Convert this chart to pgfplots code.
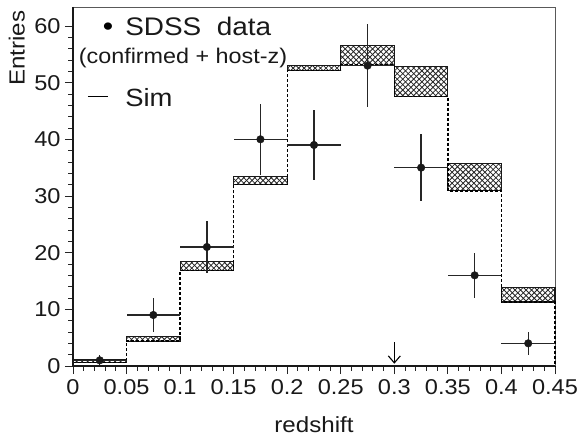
\documentclass[border=0pt]{standalone}
\usepackage{pgfplots}
\pgfplotsset{compat=1.18}
\usepackage{fontspec}
\setmainfont{Liberation Sans}[FakeStretch=1.1]
\usetikzlibrary{patterns,arrows.meta}
\pgfdeclarepatternformonly{xhatch}{\pgfqpoint{-1pt}{-1pt}}{\pgfqpoint{6.5pt}{6.5pt}}{\pgfqpoint{5.5pt}{5.5pt}}{%
  \pgfsetlinewidth{0.8pt}%
  \pgfpathmoveto{\pgfqpoint{-0.1pt}{-0.1pt}}\pgfpathlineto{\pgfqpoint{5.6pt}{5.6pt}}%
  \pgfpathmoveto{\pgfqpoint{-0.1pt}{5.6pt}}\pgfpathlineto{\pgfqpoint{5.6pt}{-0.1pt}}%
  \pgfusepath{stroke}}
\newcommand{\band}[4]{\addplot[draw=black!90, line width=1.1bp, pattern=xhatch, pattern color=black!85, forget plot] coordinates {(#1,#3) (#2,#3) (#2,#4) (#1,#4)} --cycle;}
\begin{document}
\begin{tikzpicture}
\useasboundingbox (-73bp,-72bp) rectangle (508bp,366bp);
\begin{axis}[
  at={(0,0)}, anchor=south west,
  scale only axis, width=482bp, height=359bp,
  xmin=0, xmax=0.45, ymin=0, ymax=63.35,
  axis line style={line width=0.9bp, black!65},
  xtick={0,0.05,0.1,0.15,0.2,0.25,0.3,0.35,0.4,0.45},
  xticklabels={0,0.05,0.1,0.15,0.2,0.25,0.3,0.35,0.4,0.45},
  ytick={0,10,20,30,40,50,60},
  minor x tick num=4, minor y tick num=4,
  tick align=outside, xtick pos=left, ytick pos=left,
  major tick length=8bp, minor tick length=4.5bp,
  tick style={line width=0.9bp, black!85},
  /pgf/number format/assume math mode=true,
  tick label style={font=\fontsize{21.5}{24}\selectfont, text=black!90},
  xticklabel style={yshift=-2.5bp},
  yticklabel style={xshift=-1bp},
  xlabel={redshift}, ylabel={Entries},
  label style={font=\fontsize{22}{24}\selectfont, text=black!90},
  xlabel style={at={(rel axis cs:0.5,0)}, anchor=base, yshift=-66bp, inner sep=0pt},
  ylabel style={at={(rel axis cs:0,0.885)}, anchor=south, yshift=48bp, inner sep=0pt},
  clip=false,
]
\band{0}{0.05}{0.6}{1.1}
\band{0.05}{0.1}{4.4}{5.2}
\band{0.1}{0.15}{16.8}{18.5}
\band{0.15}{0.2}{32.0}{33.4}
\band{0.2}{0.25}{52.2}{53.0}
\band{0.25}{0.3}{53.1}{56.5}
\band{0.3}{0.35}{47.6}{52.8}
\band{0.35}{0.4}{30.9}{35.8}
\band{0.4}{0.45}{11.3}{13.9}
\addplot[const plot, dash pattern=on 3bp off 2bp, line width=1.3bp, forget plot] coordinates {
 (0,0.6) (0.05,4.4) (0.1,16.8) (0.15,32.0) (0.2,52.2) (0.25,53.1) (0.3,47.6) (0.35,30.9) (0.4,11.3) (0.45,11.3) (0.45,0)};
\addplot[only marks, mark=*, mark size=3.8bp, black!90,
  error bars/.cd, x dir=both, x explicit, y dir=both, y explicit, error mark=none,
  error bar style={line width=1.3bp, black!85}] coordinates {
 (0.025,1) +- (0.025,1)
 (0.075,9) +- (0.025,3)
 (0.125,21) +- (0.025,4.6)
 (0.175,40) +- (0.025,6.3)
 (0.225,39) +- (0.025,6.2)
 (0.275,53) +- (0.025,7.3)
 (0.325,35) +- (0.025,5.9)
 (0.375,16) +- (0.025,4)
 (0.425,4) +- (0.025,2)
};
\draw[line width=1.4bp, black!90] (rel axis cs:0,1) -- (rel axis cs:0,0) -- (rel axis cs:1,0);
\draw[line width=1.1bp, -{Straight Barb[length=7bp,width=12bp]}] (axis cs:0.3,4.2) -- (axis cs:0.3,0.4);
\node[anchor=center, inner sep=0pt, font=\fontsize{27}{30}\selectfont] at (axis cs:0.0327,59.4) {\textbullet};
\node[anchor=base west, inner sep=0pt, font=\fontsize{25.5}{28}\selectfont, text=black!90] at (axis cs:0.0486,58.4) {SDSS\ \ data};
\node[anchor=base, inner sep=0pt, font=\fontsize{21.3}{24}\selectfont, text=black!90] at (axis cs:0.1027,53.4) {(confirmed + host-z)};
\draw[line width=1.2bp] (axis cs:0.014,47.5) -- (axis cs:0.0327,47.5);
\node[anchor=base west, inner sep=0pt, font=\fontsize{25}{28}\selectfont, text=black!90] at (axis cs:0.0486,45.75) {Sim};
\end{axis}
\end{tikzpicture}
\end{document}
